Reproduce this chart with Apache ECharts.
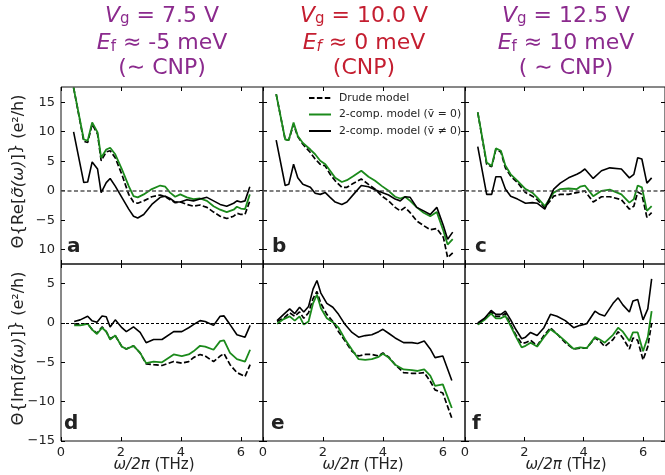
<!DOCTYPE html>
<html>
<head>
<meta charset="utf-8">
<script src="https://cdn.jsdelivr.net/npm/echarts@6/dist/echarts.min.js"></script>
<style>
html,body{margin:0;padding:0;background:#fff}
#wrap{position:relative;width:665px;height:475px}
#c{width:665px;height:475px}
.ylab{position:absolute;left:0;text-align:right;font-family:'DejaVu Sans';font-size:13px;line-height:16px;color:#222;white-space:nowrap;z-index:5}
</style>
</head>
<body>
<div id="wrap"><div id="c"></div></div>
<script>
// ---- data ----
const xTicks = [0, 2, 4, 6];
const reTicks = [-10, -5, 0, 5, 10, 15];
const imTicks = [-15, -10, -5, 0, 5];

// panel a: Re, Vg = 7.5 V
const xA = [0.42,0.76,0.89,1.04,1.22,1.34,1.51,1.64,1.81,2.03,2.26,2.42,2.56,2.76,3.03,3.31,3.48,3.64,3.81,3.98,4.20,4.42,4.64,4.87,5.09,5.31,5.53,5.76,5.87,6.00,6.14,6.30];
const drudeA = [17.4,8.3,8.1,11.2,9.5,5.0,6.5,6.7,5.5,2.7,-0.7,-2.0,-2.2,-1.8,-1.1,-0.8,-1.1,-1.6,-2.1,-2.0,-2.4,-2.7,-2.5,-2.9,-3.7,-4.4,-4.8,-4.4,-3.9,-4.1,-4.1,-1.8];
const greenA = [17.4,8.6,8.4,11.5,9.8,5.5,6.9,7.2,6.1,3.6,0.7,-1.0,-1.2,-0.7,0.2,0.8,0.6,-0.4,-1.1,-0.7,-1.2,-1.5,-1.4,-1.8,-2.7,-3.3,-3.7,-3.3,-2.8,-3.1,-3.2,-0.7];
const blackA = [9.9,1.3,1.4,4.8,3.6,-0.4,1.3,2.0,0.7,-1.2,-3.2,-4.4,-4.7,-4.1,-2.4,-1.2,-1.0,-1.4,-2.0,-2.0,-1.6,-1.8,-1.5,-1.2,-1.8,-2.4,-2.7,-2.2,-1.8,-2.0,-1.8,0.6];

// panel b: Re, Vg = 10.0 V
const xB = [0.44,0.74,0.86,1.02,1.16,1.33,1.58,1.74,1.91,2.08,2.24,2.41,2.63,2.80,3.02,3.28,3.52,3.74,3.97,4.19,4.41,4.58,4.74,4.91,5.13,5.36,5.58,5.80,6.02,6.16,6.33];
const drudeB = [16.3,8.6,8.5,11.2,9.1,7.8,6.4,5.3,4.4,4.1,2.7,1.6,0.5,0.5,1.2,1.9,1.0,0.2,-1.0,-1.8,-2.9,-3.5,-2.9,-3.8,-5.2,-6.0,-6.7,-6.5,-8.0,-11.4,-10.6];
const greenB = [16.3,8.6,8.5,11.5,9.2,8.0,6.9,6.1,5.0,4.4,3.3,2.1,1.4,1.7,2.4,3.3,2.3,1.6,0.7,-0.1,-1.1,-1.4,-1.1,-1.8,-2.9,-3.8,-4.4,-3.7,-6.9,-9.2,-8.3];
const blackB = [8.5,0.8,1.0,4.4,2.1,1.0,0.5,-0.5,-0.7,-0.4,-1.2,-2.0,-2.4,-2.0,-0.7,0.8,0.6,0.1,-0.4,-0.8,-1.5,-1.8,-1.1,-1.2,-2.9,-3.5,-4.1,-2.9,-6.0,-8.3,-7.1];

// panel c: Re, Vg = 12.5 V
const xC = [0.43,0.73,0.90,1.04,1.21,1.36,1.54,1.77,2.04,2.27,2.43,2.69,2.99,3.21,3.49,3.77,3.88,4.04,4.32,4.60,4.88,5.27,5.54,5.69,5.82,5.96,6.13,6.29];
const drudeC = [13.2,4.4,4.0,6.9,6.5,3.8,2.4,1.3,-0.4,-1.0,-1.6,-2.9,-1.0,-0.7,-0.7,-0.4,-0.3,-0.1,-2.0,-1.1,-1.1,-1.6,-3.2,-2.7,-0.3,-0.7,-4.6,-3.8];
const greenC = [13.2,4.7,4.1,7.1,6.7,4.2,2.7,1.6,0.2,-0.4,-1.2,-2.7,-0.4,0.2,0.3,0.2,0.6,0.8,-1.0,-0.1,0.1,-0.7,-2.1,-1.5,0.8,0.5,-3.5,-2.7];
const blackC = [7.4,-0.7,-0.7,2.3,2.3,0.2,-1.0,-1.5,-2.2,-2.1,-2.2,-3.2,0.2,1.2,2.1,2.7,3.0,3.6,2.0,3.3,3.8,3.6,2.1,2.7,5.5,5.3,1.2,2.1];

// panel d: Im, Vg = 7.5 V
const xD = [0.44,0.64,0.89,1.03,1.20,1.37,1.51,1.64,1.81,2.03,2.18,2.42,2.64,2.84,3.09,3.37,3.76,4.03,4.26,4.42,4.64,4.81,5.09,5.31,5.44,5.64,5.87,6.14,6.31];
const drudeD = [-0.1,-0.2,-0.1,-0.8,-1.3,-0.5,-1.1,-2.0,-1.6,-3.0,-3.3,-2.9,-3.8,-5.2,-5.3,-5.4,-4.9,-5.1,-4.9,-4.4,-4.0,-4.2,-4.9,-4.2,-3.9,-5.3,-6.3,-6.8,-5.3];
const greenD = [-0.3,-0.3,-0.1,-0.8,-1.4,-0.6,-1.1,-2.1,-1.6,-3.0,-3.3,-2.9,-3.8,-5.1,-4.9,-5.0,-4.0,-4.2,-4.0,-3.6,-2.9,-3.0,-3.4,-2.3,-2.2,-3.8,-4.6,-4.9,-3.4];
const blackD = [0.2,0.4,0.85,0.3,0.1,0.9,0.8,-0.5,0.4,-0.6,-1.1,-0.5,-1.2,-2.5,-2.1,-2.1,-1.1,-1.1,-0.6,-0.2,0.3,0.2,-0.3,0.85,0.9,-0.2,-1.5,-1.8,-0.3];

// panel e: Im, Vg = 10.0 V
const xE = [0.47,0.69,0.89,1.06,1.22,1.36,1.52,1.67,1.80,1.93,2.13,2.33,2.52,2.74,2.97,3.19,3.41,3.63,3.86,4.00,4.19,4.41,4.69,4.97,5.16,5.38,5.58,5.74,6.00,6.30];
const drudeE = [0.2,0.6,1.3,0.85,1.4,0.6,1.3,3.1,4.0,2.5,1.1,0.2,-1.1,-2.3,-3.6,-4.2,-4.0,-4.0,-4.2,-3.8,-4.3,-5.3,-6.3,-6.4,-6.4,-6.3,-7.4,-8.5,-8.9,-12.1];
const greenE = [-0.1,0.5,0.85,0.3,0.85,-0.2,0.2,2.5,3.6,1.9,0.6,0.1,-0.6,-2.1,-3.4,-4.6,-4.7,-4.6,-4.3,-3.9,-4.4,-5.3,-5.9,-6.0,-6.1,-5.9,-6.7,-8.0,-7.8,-10.8];
const blackE = [0.3,1.1,1.8,1.2,2.0,1.4,2.1,4.3,5.4,3.8,2.5,2.0,1.1,-0.2,-1.2,-1.8,-1.6,-1.5,-1.1,-0.8,-1.3,-1.9,-2.5,-2.5,-2.6,-2.3,-3.3,-4.4,-4.2,-7.3];

// panel f: Im, Vg = 12.5 V
const xF = [0.43,0.66,0.88,1.04,1.21,1.36,1.54,1.71,1.91,2.04,2.21,2.43,2.66,2.88,3.10,3.38,3.66,3.88,4.10,4.38,4.54,4.71,4.99,5.16,5.32,5.54,5.66,5.82,6.00,6.16,6.29];
const drudeF = [-0.2,0.5,1.4,0.85,0.85,1.2,-0.2,-1.5,-2.6,-2.5,-2.2,-2.9,-1.6,-0.6,-1.4,-2.5,-3.3,-3.2,-3.2,-1.9,-2.3,-3.0,-2.1,-1.1,-1.9,-3.3,-1.9,-2.2,-4.7,-3.0,0.0];
const greenF = [-0.2,0.4,1.2,0.6,0.6,0.9,-0.4,-1.7,-3.1,-2.9,-2.5,-3.0,-1.8,-0.8,-1.4,-2.3,-3.3,-3.1,-3.2,-1.8,-2.1,-2.5,-1.5,-0.6,-1.1,-2.3,-1.2,-1.2,-3.6,-1.8,1.5];
const blackF = [0.0,0.6,1.6,1.1,1.1,1.5,0.4,-0.8,-2.0,-1.8,-1.2,-1.6,-0.6,1.1,0.85,0.3,-0.6,-0.3,-0.1,1.5,1.1,0.9,2.5,3.2,2.3,1.4,2.8,3.0,0.4,1.8,5.6];

const seriesNames = ['Drude model', '2-comp. model (v\u0304 = 0)', '2-comp. model (v\u0304 \u2260 0)'];
const panelLetters = ['a', 'b', 'c', 'd', 'e', 'f'];

// ---- layout / style ----
const FONT = 'DejaVu Sans';
const PURPLE = '#8b2a8d';
const RED = '#c41e30';
const GREEN = '#1b8a1b';
const panels = [
  {x: xA, s: [drudeA, greenA, blackA], top: true},
  {x: xB, s: [drudeB, greenB, blackB], top: true},
  {x: xC, s: [drudeC, greenC, blackC], top: true},
  {x: xD, s: [drudeD, greenD, blackD], top: false},
  {x: xE, s: [drudeE, greenE, blackE], top: false},
  {x: xF, s: [drudeF, greenF, blackF], top: false}
];
const lefts = [61, 263, 465];
const PW = 202, PH = 177, TOP1 = 87, TOP2 = 264;
const XMAX = 6.74;
const LABEL_MARGIN = 6;

const fmtMinus = v => String(v).replace('-', '\u2212');
const reLabel = v => (v === -10 ? '10' : fmtMinus(v));   // the reference shows "10" at -10
const noLine = {show: false, onZero: false};

const grid = [], xAxis = [], yAxis = [], series = [];
panels.forEach((p, i) => {
  const col = i % 3;
  grid.push({left: lefts[col], top: p.top ? TOP1 : TOP2, width: PW, height: PH,
    show: true, borderColor: '#111', borderWidth: 1, backgroundColor: 'transparent'});
  const tickBase = {show: true, inside: true, length: 4, lineStyle: {color: '#000', width: 1}};
  const showXLab = !p.top;
  xAxis.push({type: 'value', gridIndex: i, min: 0, max: XMAX, position: 'bottom',
    axisLine: noLine, splitLine: {show: false},
    axisTick: Object.assign({customValues: xTicks}, tickBase),
    axisLabel: {show: showXLab, customValues: xTicks, margin: 5, fontFamily: FONT, fontSize: 13, color: '#222',
      hideOverlap: false, formatter: fmtMinus}});
  xAxis.push({type: 'value', gridIndex: i, min: 0, max: XMAX, position: 'top',
    axisLine: noLine, splitLine: {show: false},
    axisTick: Object.assign({customValues: xTicks}, tickBase), axisLabel: {show: false}});
  const yt = p.top ? reTicks : imTicks;
  const ymin = p.top ? -12.5 : -15, ymax = p.top ? 17.5 : 7.5;
  yAxis.push({type: 'value', gridIndex: i, min: ymin, max: ymax, position: 'left',
    axisLine: noLine, splitLine: {show: false},
    axisTick: Object.assign({customValues: yt}, tickBase),
    // top-row labels are placed below through the axis scale (convertToPixel)
    axisLabel: {show: col === 0 && !p.top, customValues: yt, margin: LABEL_MARGIN, fontFamily: FONT, fontSize: 13,
      color: '#222', hideOverlap: false, formatter: fmtMinus}});
  yAxis.push({type: 'value', gridIndex: i, min: ymin, max: ymax, position: 'right',
    axisLine: noLine, splitLine: {show: false},
    axisTick: Object.assign({customValues: yt}, tickBase), axisLabel: {show: false}});

  const styles = [
    {color: '#000', type: [5.5, 2.4], width: 1.7},
    {color: GREEN, type: 'solid', width: 1.8},
    {color: '#000', type: 'solid', width: 1.6}
  ];
  p.s.forEach((vals, k) => {
    const s = {
      type: 'line', name: seriesNames[k], xAxisIndex: 2 * i, yAxisIndex: 2 * i,
      data: p.x.map((xv, j) => [xv, vals[j]]),
      symbol: 'none', showSymbol: false, smooth: false, animation: false, silent: true,
      color: styles[k].color, lineStyle: styles[k], z: 3 + k
    };
    if (k === 0) {
      s.markLine = {silent: true, symbol: 'none', animation: false, label: {show: false},
        lineStyle: p.top ? {color: '#555', type: [4, 2.5], width: 1.5} : {color: '#000', type: [3, 2], width: 1},
        data: [{yAxis: 0}]};
    }
    series.push(s);
  });
});

// ---- text graphics ----
const graphic = [];
const titleRich = c => ({
  it: {fontFamily: FONT, fontSize: 22, fontStyle: 'italic', fill: c, lineHeight: 24, verticalAlign: 'bottom'},
  n: {fontFamily: FONT, fontSize: 22, fill: c, lineHeight: 24, verticalAlign: 'bottom'},
  sub: {fontFamily: FONT, fontSize: 15, fill: c, lineHeight: 11, verticalAlign: 'bottom'},
  subi: {fontFamily: FONT, fontSize: 15, fontStyle: 'italic', fill: c, lineHeight: 11, verticalAlign: 'bottom'}
});
const titles = [
  {c: PURPLE, l: ['{it|V}{sub|g}{n| = 7.5 V}', '{it|E}{sub|f}{n| \u2248 -5 meV}', '{n|(\u223C CNP)}']},
  {c: RED, l: ['{it|V}{sub|g}{n| = 10.0 V}', '{it|E}{subi|f}{n| \u2248 0 meV}', '{n|(CNP)}']},
  {c: PURPLE, l: ['{it|V}{sub|g}{n| = 12.5 V}', '{it|E}{sub|f}{n| \u2248 10 meV}', '{n|( \u223C CNP)}']}
];
const titleY = [15, 42.4, 67.4];
titles.forEach((t, col) => {
  t.l.forEach((line, r) => {
    graphic.push({type: 'text', x: lefts[col] + PW / 2, y: titleY[r], silent: true,
      style: {text: line, align: 'center', verticalAlign: 'middle', fill: t.c,
        fontFamily: FONT, fontSize: 22, rich: titleRich(t.c)}});
  });
});

// y-axis names
const yNames = ['{m|\u0398{Re[}{i|\u03C3\u0303(\u03C9)}{m|]}}{s| (e\u00B2/h)}', '{m|\u0398{Im[}{i|\u03C3\u0303(\u03C9)}{m|]}}{s| (e\u00B2/h)}'];
[TOP1, TOP2].forEach((tp, r) => {
  graphic.push({type: 'text', x: 16, y: tp + PH / 2 - 4, rotation: Math.PI / 2, silent: true,
    style: {text: yNames[r], align: 'center', verticalAlign: 'middle', fill: '#222',
      fontFamily: FONT, fontSize: 16,
      rich: {m: {fontFamily: FONT, fontSize: 16.5, fill: '#222', verticalAlign: 'bottom', lineHeight: 22},
             i: {fontFamily: FONT, fontSize: 16.5, fontStyle: 'italic', fill: '#222', verticalAlign: 'bottom', lineHeight: 22},
             s: {fontFamily: FONT, fontSize: 16, fill: '#222', verticalAlign: 'bottom', lineHeight: 21}}}});
});

// x-axis names
[154, 363, 566].forEach(cx => {
  graphic.push({type: 'text', x: cx, y: 465, silent: true,
    style: {text: '{i|\u03C9/2\u03C0} (THz)', align: 'center', verticalAlign: 'middle', fill: '#222',
      fontFamily: FONT, fontSize: 15,
      rich: {i: {fontFamily: FONT, fontSize: 15, fontStyle: 'italic', fill: '#222'}}}});
});

// panel letters
const letterPos = [[67, 247], [272, 247], [475, 247], [64, 424], [271, 424], [472, 424]];
panelLetters.forEach((L, i) => {
  graphic.push({type: 'text', x: letterPos[i][0], y: letterPos[i][1], silent: true,
    style: {text: L, align: 'left', verticalAlign: 'middle', fill: '#222',
      fontFamily: FONT, fontSize: 20, fontWeight: 'bold'}});
});

const chart = echarts.init(document.getElementById('c'), null, {renderer: 'canvas'});
chart.setOption({
  animation: false,
  backgroundColor: '#fff',
  grid, xAxis, yAxis, series, graphic,
  legend: {
    show: true, orient: 'vertical', left: 308, top: 92, padding: 0,
    itemWidth: 22, itemHeight: 12, itemGap: 4.5,
    data: seriesNames,
    itemStyle: {opacity: 0},
    textStyle: {fontFamily: FONT, fontSize: 10.8, color: '#222', lineHeight: 12, padding: [0, 0, 0, 3]},
    selectedMode: false
  }
});

// top-row y tick labels as real HTML text, positioned through panel a's y axis scale
const wrap = document.getElementById('wrap');
reTicks.forEach(v => {
  const y = chart.convertToPixel({yAxisIndex: 0}, v);
  const d = document.createElement('div');
  d.className = 'ylab';
  d.style.width = (lefts[0] - LABEL_MARGIN) + 'px';
  d.style.top = (y - 8) + 'px';
  d.textContent = reLabel(v);
  wrap.appendChild(d);
});
</script>
</body>
</html>
